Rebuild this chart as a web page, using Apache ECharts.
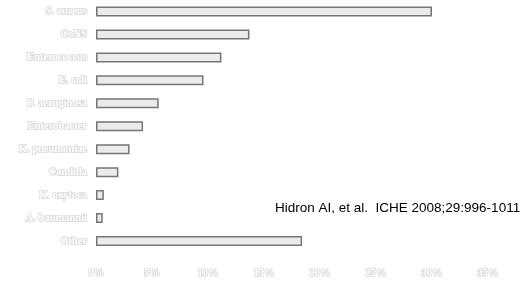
<!DOCTYPE html>
<html>
<head>
<meta charset="utf-8">
<script src="https://cdn.jsdelivr.net/npm/echarts@6/dist/echarts.min.js"></script>
<style>
  html, body { margin: 0; padding: 0; background: #fff; }
  #main { width: 527px; height: 282px; }
</style>
</head>
<body>
<div id="main"></div>
<script>
// 病原体 (从上到下)
const organisms = ['S. aureus', 'CoNS', 'Enterococcus', 'E. coli', 'P. aeruginosa', 'Enterobacter',
  'K. pneumoniae', 'Candida', 'K. oxytoca', 'A. baumannii', 'Other'];
// 百分比
const percents = [30.0, 13.7, 11.2, 9.6, 5.6, 4.2, 3.0, 2.0, 0.7, 0.6, 18.4];
// x轴刻度
const xTicks = [0, 5, 10, 15, 20, 25, 30, 35];
const citation = 'Hidron AI, et al.  ICHE 2008;29:996-1011';

const mychart = echarts.init(document.getElementById('main'));
const faint = {
  color: '#ffffff',
  textBorderColor: '#d8d8d8',
  textBorderWidth: 1.5,
  fontFamily: 'Liberation Serif',
  fontWeight: 'bold',
  fontSize: 10.5
};
const option = {
  animation: false,
  grid: { left: 96, right: 39, top: -1.5, bottom: 29.5 },
  xAxis: {
    type: 'value',
    min: xTicks[0],
    max: xTicks[xTicks.length - 1],
    interval: 5,
    splitLine: { show: false },
    axisLine: { show: false },
    axisTick: { show: false },
    axisLabel: Object.assign({ margin: 15, formatter: v => v + '%' }, faint)
  },
  yAxis: {
    type: 'category',
    inverse: true,
    data: organisms,
    axisLine: { show: false },
    axisTick: { show: false },
    axisLabel: Object.assign({ margin: 9 }, faint)
  },
  series: [{
    type: 'bar',
    data: percents,
    barWidth: 10,
    itemStyle: {
      color: '#ebebeb',
      borderColor: '#767676',
      borderWidth: 1.5
    }
  }],
  graphic: [{
    type: 'text',
    left: 275,
    top: 201,
    style: {
      text: citation,
      fill: '#000',
      font: '13.5px "Liberation Sans"'
    }
  }]
};
mychart.setOption(option);
</script>
</body>
</html>
